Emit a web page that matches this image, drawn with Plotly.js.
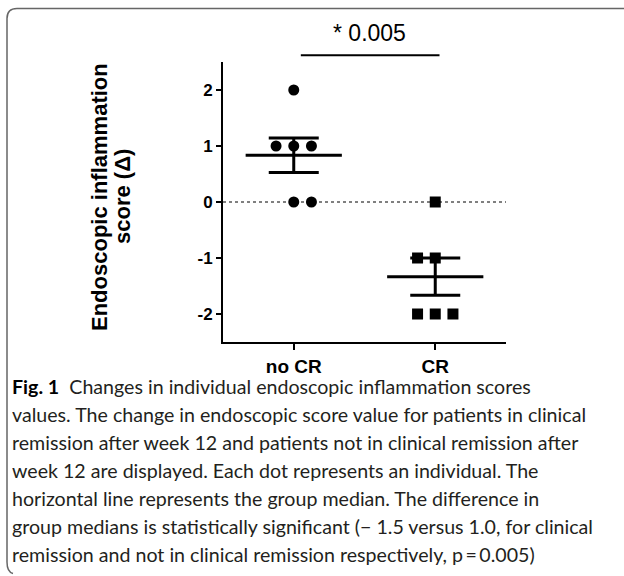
<!DOCTYPE html>
<html>
<head>
<meta charset="utf-8">
<script src="https://cdn.plot.ly/plotly-3.0.1.min.js"></script>
<style>
  html, body { margin: 0; padding: 0; background: #fff; }
  #wrap { position: relative; width: 624px; height: 576px; overflow: hidden; }
  #plot { position: absolute; left: 0; top: 0; width: 624px; height: 576px; }
  #frame { position: absolute; left: 0; top: 0; }
  #caption { position: absolute; left: 12px; top: 373px; font-family: "Lato", "Open Sans", sans-serif;
             font-size: 19px; line-height: 28px; color: #231f20; white-space: nowrap; transform-origin: 0 0; }
  #caption b { color: #000; font-weight: 700; }
</style>
</head>
<body>
<div id="wrap">
  <div id="plot"></div>
  <svg id="frame" width="624" height="576">
    <path d="M 624 8.5 H 17 Q 7 8.5 7 18.5 V 562 Q 7 572 13 573.5" fill="none" stroke="#666" stroke-width="1.5"/>
  </svg>
  <div id="caption"></div>
</div>
<script>
// ---- data ----
const categories = ['no CR', 'CR'];
const noCR = [2, 1, 1, 1, 0, 0];
const CR = [0, -1, -1, -2, -2, -2];
const yTickVals = [-2, -1, 0, 1, 2];
const yTickText = ['-2', '-1', '0', '1', '2'];
const pLabel = '* 0.005';
const yTitleLines = ['Endoscopic inflammation', 'score (\u0394)'];
const captionLines = [
  '<b>Fig. 1</b>&nbsp; Changes in individual endoscopic inflammation scores',
  'values. The change in endoscopic score value for patients in clinical',
  'remission after week 12 and patients not in clinical remission after',
  'week 12 are displayed. Each dot represents an individual. The',
  'horizontal line represents the group median. The difference in',
  'group medians is statistically significant (\u2212 1.5 versus 1.0, for clinical',
  'remission and not in clinical remission respectively, p\u2009=\u20090.005)'
];

// ---- helpers ----
const groups = [noCR, CR];
const symbols = ['circle', 'square'];
const evenSide = [1, -1];
const step = 0.125;
const halfMean = 0.34;

function jitter(vals, gi) {
  const counts = {}, seen = {};
  vals.forEach(v => counts[v] = (counts[v] || 0) + 1);
  return vals.map(v => {
    const n = counts[v];
    const k = seen[v] = (seen[v] === undefined ? 0 : seen[v] + 1);
    let off = k - (n - 1) / 2;
    if (n % 2 === 0) off += evenSide[gi] * 0.5;
    return gi + off * step;
  });
}
function mean(a) { return a.reduce((s, v) => s + v, 0) / a.length; }
function sem(a) {
  const m = mean(a);
  const sd = Math.sqrt(a.reduce((s, v) => s + (v - m) * (v - m), 0) / (a.length - 1));
  return sd / Math.sqrt(a.length);
}

const traces = [];
groups.forEach((g, gi) => {
  traces.push({
    type: 'scatter', mode: 'markers', x: jitter(g, gi), y: g,
    marker: { symbol: symbols[gi], size: 11, color: '#000' },
    showlegend: false, hoverinfo: 'y'
  });
});
const means = groups.map(mean);
const sems = groups.map(sem);
const mx = [], my = [];
means.forEach((m, gi) => { mx.push(gi - halfMean, gi + halfMean, null); my.push(m, m, null); });
traces.push({ type: 'scatter', mode: 'lines', x: mx, y: my, line: { color: '#000', width: 3 }, showlegend: false, hoverinfo: 'skip' });
traces.push({
  type: 'scatter', mode: 'markers', x: groups.map((g, i) => i), y: means,
  marker: { size: 1, opacity: 0 },
  error_y: { type: 'data', array: sems, visible: true, width: 25, thickness: 3, color: '#000' },
  showlegend: false, hoverinfo: 'skip'
});

const titleFont = { family: 'Arial, Liberation Sans', size: 22, color: '#000', weight: 'bold' };
const layout = {
  width: 624, height: 576,
  margin: { l: 223, r: 118, t: 62, b: 234 },
  paper_bgcolor: 'rgba(0,0,0,0)', plot_bgcolor: 'rgba(0,0,0,0)',
  xaxis: {
    range: [-0.5, 1.5], tickvals: categories.map((c, i) => i), ticktext: categories,
    showline: true, linecolor: '#000', linewidth: 2, ticks: 'outside', ticklen: 6, tickwidth: 2, tickcolor: '#000',
    showgrid: false, zeroline: false,
    tickfont: { family: 'Arial, Liberation Sans', size: 19, color: '#000', weight: 'bold' }
  },
  yaxis: {
    range: [-2.5, 2.5], tickvals: yTickVals, ticktext: yTickText,
    showline: true, linecolor: '#000', linewidth: 2, ticks: 'outside', ticklen: 5, tickwidth: 2, tickcolor: '#000',
    showgrid: false, zeroline: false,
    tickfont: { family: 'Arial, Liberation Sans', size: 17, color: '#000', weight: 'bold' }
  },
  shapes: [
    { type: 'line', xref: 'paper', yref: 'y', x0: 0, x1: 1, y0: 0, y1: 0, line: { color: '#000', width: 1, dash: 'dot' }, layer: 'below' },
    { type: 'line', xref: 'x', yref: 'paper', x0: 0.05, x1: 1.03, y0: 1.024, y1: 1.024, line: { color: '#000', width: 2 } }
  ],
  annotations: [
    { xref: 'x', yref: 'paper', x: 0.5, y: 1, xshift: 5, yshift: 29, yanchor: 'middle', showarrow: false,
      text: pLabel, font: { family: 'Arial, Liberation Sans', size: 23, color: '#000' } },
    { xref: 'paper', yref: 'paper', x: 0, y: 0.5, xshift: -124, yshift: 5, textangle: -90, showarrow: false,
      xanchor: 'center', yanchor: 'middle', text: yTitleLines[0], font: titleFont },
    { xref: 'paper', yref: 'paper', x: 0, y: 0.5, xshift: -101, yshift: 5, textangle: -90, showarrow: false,
      xanchor: 'center', yanchor: 'middle', text: yTitleLines[1], font: titleFont }
  ]
};

Plotly.newPlot('plot', traces, layout, { staticPlot: true });

const cap = document.getElementById('caption');
cap.innerHTML = captionLines.map(l => '<div>' + l + '</div>').join('');
const line2 = cap.children[1];
const w = line2.getBoundingClientRect().width;
const target = 581;
cap.style.transform = 'scaleX(' + (target / w) + ')';
</script>
</body>
</html>
